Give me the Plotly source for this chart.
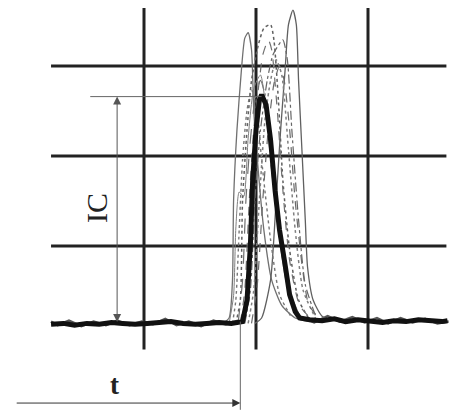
import plotly.graph_objects as go

# ---- data (time in grid units, signal in grid units) ----
main_t = [0.17, 0.28, 0.38, 0.49, 0.60, 0.71, 0.81, 0.92, 1.03, 1.13, 1.24, 1.35, 1.46, 1.56, 1.67, 1.78,
          1.88, 1.92, 1.95, 1.97, 2.00, 2.03, 2.05, 2.09, 2.13, 2.17, 2.21, 2.26, 2.30, 2.35, 2.39,
          2.48, 2.59, 2.70, 2.80, 2.91, 3.02, 3.13, 3.23, 3.34, 3.45, 3.55, 3.66, 3.71]
main_v = [0.13, 0.14, 0.12, 0.14, 0.13, 0.15, 0.14, 0.13, 0.14, 0.15, 0.16, 0.14, 0.13, 0.14, 0.15, 0.14,
          0.16, 0.40, 1.01, 1.73, 2.29, 2.62, 2.68, 2.57, 2.18, 1.62, 1.18, 0.79, 0.46, 0.27, 0.20,
          0.18, 0.17, 0.19, 0.16, 0.18, 0.17, 0.15, 0.17, 0.16, 0.18, 0.17, 0.16, 0.17]

# fuzzy baseline of the other runs (before and after the peak)
base_left_t = [0.17, 0.23, 0.33, 0.44, 0.55, 0.66, 0.76, 0.87, 0.98, 1.08, 1.19, 1.29, 1.40, 1.51, 1.62,
               1.73, 1.84]
base_left_v = [0.16, 0.12, 0.17, 0.11, 0.16, 0.12, 0.17, 0.12, 0.16, 0.13, 0.19, 0.12, 0.16, 0.11, 0.17,
               0.13, 0.17]
base_right_t = [2.40, 2.52, 2.64, 2.75, 2.86, 2.97, 3.08, 3.18, 3.29, 3.40, 3.51, 3.62, 3.72]
base_right_v = [0.21, 0.15, 0.22, 0.16, 0.21, 0.15, 0.20, 0.14, 0.20, 0.15, 0.19, 0.14, 0.16]

c1_t = [1.70, 1.76, 1.79, 1.80, 1.83, 1.87, 1.90, 1.93, 1.96, 1.98, 2.02, 2.07, 2.14, 2.23, 2.35, 2.48]
c1_v = [0.14, 0.20, 0.62, 1.51, 2.29, 2.96, 3.31, 3.37, 3.18, 2.51, 1.84, 1.18, 0.62, 0.34, 0.20, 0.16]

c2_t = [1.99, 2.05, 2.13, 2.18, 2.22, 2.26, 2.29, 2.33, 2.36, 2.38, 2.41, 2.44, 2.46, 2.51, 2.59, 2.71]
c2_v = [0.14, 0.20, 0.62, 1.51, 2.29, 2.96, 3.46, 3.62, 3.46, 2.84, 2.07, 1.29, 0.77, 0.40, 0.22, 0.17]

c3_t = [1.82, 1.86, 1.88, 1.92, 1.96, 2.02, 2.07, 2.13, 2.16, 2.20, 2.24, 2.30, 2.38, 2.48]
c3_v = [0.14, 0.40, 1.51, 2.29, 2.84, 3.23, 3.42, 3.46, 3.29, 2.62, 1.73, 0.96, 0.40, 0.18]

c4_t = [1.86, 1.90, 1.94, 1.98, 2.03, 2.06, 2.11, 2.14, 2.19, 2.24, 2.30, 2.39, 2.50]
c4_v = [0.14, 0.51, 1.51, 2.29, 2.84, 3.12, 3.29, 3.18, 2.51, 1.62, 0.84, 0.34, 0.18]

c5_t = [1.90, 1.95, 1.99, 2.04, 2.10, 2.15, 2.20, 2.24, 2.28, 2.32, 2.38, 2.44, 2.53]
c5_v = [0.14, 0.51, 1.51, 2.29, 2.84, 3.12, 3.23, 3.29, 3.07, 2.29, 1.29, 0.57, 0.23]

c6_t = [1.93, 1.98, 2.03, 2.08, 2.13, 2.18, 2.23, 2.29, 2.35, 2.42, 2.53]
c6_v = [0.14, 0.51, 1.51, 2.40, 2.84, 3.07, 2.90, 2.07, 1.18, 0.51, 0.20]

c7_t = [1.84, 1.88, 1.91, 1.95, 1.99, 2.04, 2.08, 2.13, 2.20, 2.28, 2.38]
c7_v = [0.14, 0.62, 1.51, 2.18, 2.62, 2.84, 2.68, 1.96, 1.18, 0.57, 0.23]

c8_t = [1.79, 1.82, 1.85, 1.88, 1.92, 1.96, 2.00, 2.05, 2.13, 2.21, 2.32]
c8_v = [0.14, 0.40, 1.18, 1.96, 2.51, 2.73, 2.62, 1.96, 1.07, 0.46, 0.20]

c9_t = [1.76, 1.80, 1.82, 1.85, 1.89, 1.93, 1.98, 2.04, 2.10, 2.18, 2.27, 2.40]
c9_v = [0.14, 0.45, 1.20, 1.60, 1.55, 2.20, 2.75, 2.90, 2.40, 1.40, 0.60, 0.20]

c10_t = [1.96, 2.01, 2.06, 2.11, 2.16, 2.21, 2.25, 2.30, 2.35, 2.41, 2.47, 2.56]
c10_v = [0.14, 0.55, 1.50, 2.30, 2.80, 3.00, 2.85, 2.30, 1.50, 0.80, 0.35, 0.20]

grid_t = [1, 2, 3]
grid_v = [1, 2, 3]

peak_t = 2.05
peak_v = 2.66
zero_v = 0.14
onset_t = 1.86

fig = go.Figure()

for bt, bv in [(base_left_t, base_left_v), (base_right_t, base_right_v)]:
    fig.add_trace(go.Scatter(x=bt, y=bv, mode="lines",
                             line=dict(color="#555555", width=2.5),
                             hoverinfo="skip", showlegend=False))

gray = [
    (c1_t, c1_v, "#707070", "solid", 1.3),
    (c2_t, c2_v, "#606060", "solid", 1.3),
    (c3_t, c3_v, "#606060", "dot", 1.5),
    (c4_t, c4_v, "#707070", "dash", 1.2),
    (c5_t, c5_v, "#666666", "dashdot", 1.2),
    (c6_t, c6_v, "#808080", "dot", 1.5),
    (c7_t, c7_v, "#707070", "longdash", 1.2),
    (c8_t, c8_v, "#777777", "dot", 1.4),
    (c9_t, c9_v, "#808080", "solid", 1.0),
    (c10_t, c10_v, "#6a6a6a", "dash", 1.2),
]
for t, v, col, dash, w in gray:
    fig.add_trace(go.Scatter(x=t, y=v, mode="lines",
                             line=dict(color=col, width=w, dash=dash, shape="spline", smoothing=0.6),
                             hoverinfo="skip", showlegend=False))

fig.add_trace(go.Scatter(x=main_t, y=main_v, mode="lines",
                         line=dict(color="#111111", width=5),
                         hoverinfo="skip", showlegend=False))

shapes = []
for g in grid_t:
    shapes.append(dict(type="line", xref="x", yref="y", x0=g, x1=g, y0=-0.15, y1=3.69,
                       line=dict(color="#222222", width=3), layer="below"))
for g in grid_v:
    shapes.append(dict(type="line", xref="x", yref="y", x0=0.17, x1=3.70, y0=g, y1=g,
                       line=dict(color="#222222", width=3), layer="below"))
# reference line at peak height
shapes.append(dict(type="line", xref="x", yref="y", x0=0.52, x1=peak_t, y0=peak_v, y1=peak_v,
                   line=dict(color="#666666", width=1)))
# onset vertical line
shapes.append(dict(type="line", xref="x", yref="y", x0=onset_t, x1=onset_t, y0=0.16, y1=-0.82,
                   line=dict(color="#666666", width=1)))

annotations = [
    # IC double arrow
    dict(x=0.76, y=peak_v, ax=0.76, ay=zero_v, xref="x", yref="y", axref="x", ayref="y",
         showarrow=True, arrowhead=2, startarrowhead=2, arrowside="end+start",
         arrowsize=1.6, arrowwidth=1, arrowcolor="#555555", text=""),
    dict(x=0.57, y=1.42, xref="x", yref="y", text="IC", showarrow=False, textangle=-90,
         font=dict(family="Liberation Serif", size=30, color="#222222")),
    # t arrow
    dict(x=onset_t, y=-0.745, ax=-0.15, ay=-0.745, xref="x", yref="y", axref="x", ayref="y",
         showarrow=True, arrowhead=2, arrowsize=1.6, arrowwidth=1, arrowcolor="#333333", text=""),
    dict(x=0.74, y=-0.54, xref="x", yref="y", text="<b>t</b>", showarrow=False,
         font=dict(family="Liberation Serif", size=27, color="#222222")),
]

fig.update_layout(
    width=472, height=413,
    margin=dict(l=0, r=0, t=0, b=0),
    paper_bgcolor="white", plot_bgcolor="white",
    xaxis=dict(range=[-0.2143, 4.0], visible=False, fixedrange=True),
    yaxis=dict(range=[-0.9444, 3.6444], visible=False, fixedrange=True),
    shapes=shapes, annotations=annotations,
)

fig.write_html("out.html", config={"displayModeBar": False})
